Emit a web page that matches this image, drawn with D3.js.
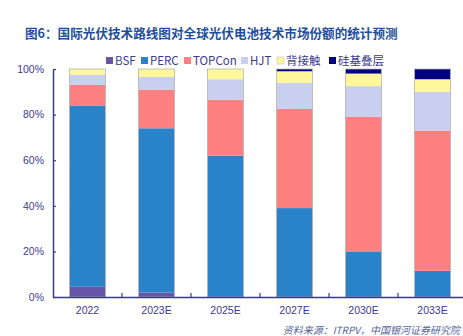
<!DOCTYPE html>
<html lang="zh">
<head>
<meta charset="utf-8">
<title>光伏电池技术市场份额</title>
<script src="https://d3js.org/d3.v7.min.js"></script>
<style>
  body { margin: 0; background: #fff; }
  svg { display: block; font-family: "Noto Sans CJK SC", "Liberation Sans", sans-serif; }
</style>
</head>
<body>
<svg id="chart" width="463" height="336"></svg>
<script>
// years on the x axis
const years = ["2022", "2023E", "2025E", "2027E", "2030E", "2033E"];
// technology names, bottom to top in each stack
const techs = ["BSF", "PERC", "TOPCon", "HJT", "背接触", "硅基叠层"];
// market share (%) per technology
const bsf    = [4.5, 2, 0, 0, 0, 0];
const perc   = [79.5, 72, 62, 39, 20, 11.5];
const topcon = [9, 17, 24.5, 43.5, 59, 61.5];
const hjt    = [4.5, 5.5, 9, 11.5, 13.5, 17];
const bc     = [2.5, 3.5, 4.5, 5, 5.5, 5.5];
const tandem = [0, 0, 0, 1, 2, 4.5];
const yTicks = [0, 20, 40, 60, 80, 100];

const colors = ["#6756a8", "#2a83c8", "#ff8080", "#c9cfee", "#fff799", "#000080"];
const axisColor = "#3b3b8c";

const svg = d3.select("#chart");
const margin = { left: 53, top: 69, bottom: 39 };
const plotH = 336 - margin.top - margin.bottom;

const table = years.map((y, i) => ({
  year: y,
  BSF: bsf[i], PERC: perc[i], TOPCon: topcon[i], HJT: hjt[i],
  "背接触": bc[i], "硅基叠层": tandem[i]
}));
const series = d3.stack().keys(techs)(table);

const x = d3.scaleBand().domain(years).range([margin.left, margin.left + 69 * years.length])
  .paddingInner(0.48).paddingOuter(0.24);
const y = d3.scaleLinear().domain([0, 100]).range([margin.top + plotH, margin.top]);

// title
svg.append("text")
  .attr("x", 25).attr("y", 38)
  .attr("font-size", 12.6).attr("font-weight", "bold")
  .attr("fill", "#1f4f9c")
  .text("图6：国际光伏技术路线图对全球光伏电池技术市场份额的统计预测");

// legend
const legendX = [106, 141, 184, 241, 277, 329];
const lg = svg.append("g").selectAll("g").data(techs).join("g")
  .attr("transform", (d, i) => `translate(${legendX[i]},61)`);
lg.append("rect").attr("x", 0).attr("y", -4).attr("width", 7).attr("height", 7)
  .attr("fill", (d, i) => colors[i])
  .attr("stroke", (d, i) => i === 4 ? "#b8b8b8" : "none").attr("stroke-width", 0.5);
lg.append("text").attr("x", 9).attr("y", 4)
  .attr("font-size", 11.5).attr("fill", axisColor)
  .text(d => d);

// stacked bars
svg.append("g").selectAll("g").data(series).join("g")
  .attr("fill", (d, i) => colors[i])
  .selectAll("rect").data(d => d.filter(v => v[1] - v[0] > 0)).join("rect")
  .attr("x", d => x(d.data.year))
  .attr("width", x.bandwidth())
  .attr("y", d => y(d[1]))
  .attr("height", d => y(d[0]) - y(d[1]));

// thin grey outline around each bar
svg.append("g").selectAll("rect").data(years).join("rect")
  .attr("x", d => x(d)).attr("width", x.bandwidth())
  .attr("y", y(100)).attr("height", y(0) - y(100))
  .attr("fill", "none").attr("stroke", "#b4b4b4").attr("stroke-width", 0.8);

// y axis
const yAxis = svg.append("g")
  .attr("transform", `translate(${margin.left},0)`)
  .call(d3.axisLeft(y).tickValues(yTicks).tickFormat(d => d + "%").tickSize(4).tickSizeOuter(0));
yAxis.select(".domain").attr("stroke", axisColor).attr("stroke-width", 1.5);
yAxis.selectAll(".tick line").attr("stroke", axisColor).attr("stroke-width", 1.2)
  .attr("x1", 0).attr("x2", 3);
yAxis.selectAll(".tick text").attr("x", -9).attr("fill", axisColor)
  .attr("font-size", 10.5).attr("font-family", "Liberation Sans, sans-serif");

// x axis
const xAxis = svg.append("g")
  .attr("transform", `translate(0,${y(0)})`)
  .call(d3.axisBottom(x).tickSize(0).tickSizeOuter(0));
xAxis.select(".domain").attr("stroke", axisColor).attr("stroke-width", 1.5);
xAxis.selectAll(".tick text").attr("dy", "1.35em").attr("fill", axisColor)
  .attr("font-size", 10.5).attr("font-family", "Liberation Sans, sans-serif");
// category separator ticks
xAxis.selectAll("line.sep").data(years.slice(1)).join("line")
  .attr("class", "sep")
  .attr("x1", d => x(d) - x.step() * x.paddingInner() / 2)
  .attr("x2", d => x(d) - x.step() * x.paddingInner() / 2)
  .attr("y1", 0).attr("y2", -4)
  .attr("stroke", axisColor).attr("stroke-width", 1.2);

// source note
svg.append("text")
  .attr("x", 460).attr("y", 334)
  .attr("text-anchor", "end")
  .attr("font-size", 10).attr("font-style", "italic")
  .attr("fill", "#55659a")
  .text("资料来源：ITRPV，中国银河证券研究院");
</script>
</body>
</html>
